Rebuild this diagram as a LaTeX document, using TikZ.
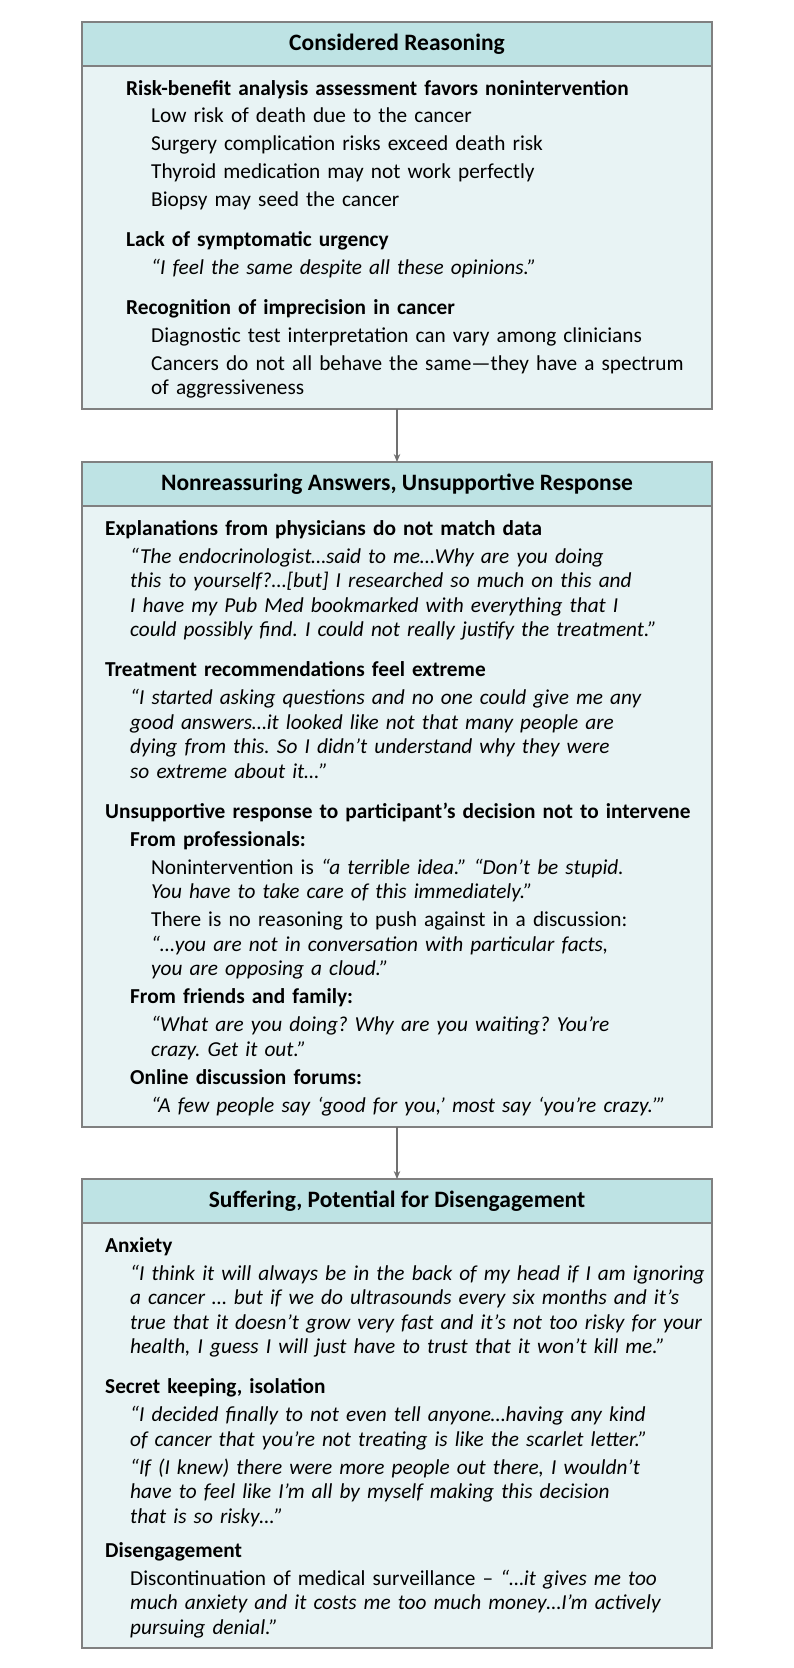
\documentclass[tikz,border=0pt]{standalone}
\usepackage{fontspec}
\usepackage{xcolor}
\usepackage{tikz}
\usetikzlibrary{calc}
\usetikzlibrary{positioning}
\usetikzlibrary{arrows.meta}
\setmainfont{Carlito}
\frenchspacing
\definecolor{hdrfill}{HTML}{BEE3E4}
\definecolor{panelfill}{HTML}{E8F3F4}
\definecolor{frame}{HTML}{808080}
\definecolor{arrowgray}{HTML}{707070}

\begin{document}
\begin{tikzpicture}[x=1pt, y=-1pt, >={Stealth[length=8pt, width=6.5pt]}]
	\tikzstyle{hdr}=[draw=frame, fill=hdrfill, line width=1.2pt, minimum width=630pt, minimum height=44pt, inner sep=0pt, outer sep=0pt, font=\fontsize{23.5}{26}\selectfont\bfseries]
	\tikzstyle{panel}=[draw=frame, fill=panelfill, line width=1.2pt, minimum width=630pt, inner sep=0pt, outer sep=0pt]
	\tikzstyle{body}=[anchor=base west, text width=620pt, align=left, inner sep=0pt, font=\fontsize{21.3}{24.5}\selectfont]
	\tikzstyle{arr}=[->, draw=arrowgray, line width=1.1pt]

	\useasboundingbox (0,0) rectangle (794,1668);

	\node[hdr] (hdr1) at (397,44) {Considered Reasoning};
	\node[panel, below=0pt of hdr1, minimum height=343pt] (body1) {};
	\node[hdr, below=53pt of body1] (hdr2) {Nonreassuring Answers, Unsupportive Response};
	\node[panel, below=0pt of hdr2, minimum height=621pt] (body2) {};
	\node[hdr, below=52pt of body2] (hdr3) {Suffering, Potential for Disengagement};
	\node[panel, below=0pt of hdr3, minimum height=425pt] (body3) {};

	\path (body1) edge[arr] (hdr2);
	\path (body2) edge[arr] (hdr3);

	\node[body] (txt1) at ($(body1.north west) + (44,29)$) {\textbf{Risk-benefit analysis assessment favors nonintervention}\\[3.4pt]
		\hspace*{25pt}Low risk of death due to the cancer\\[3.4pt]
		\hspace*{25pt}Surgery complication risks exceed death risk\\[3.4pt]
		\hspace*{25pt}Thyroid medication may not work perfectly\\[3.4pt]
		\hspace*{25pt}Biopsy may seed the cancer\\[15.5pt]
		\textbf{Lack of symptomatic urgency}\\[3.4pt]
		\hspace*{25pt}\textit{“I feel the same despite all these opinions.”}\\[15.5pt]
		\textbf{Recognition of imprecision in cancer}\\[3.4pt]
		\hspace*{25pt}Diagnostic test interpretation can vary among clinicians\\[3.4pt]
		\hspace*{25pt}Cancers do not all behave the same—they have a spectrum\\
		\hspace*{25pt}of aggressiveness};

	\node[body] (txt2) at ($(body2.north west) + (23,29)$) {\textbf{Explanations from physicians do not match data}\\[3.5pt]
		\hspace*{25pt}\textit{“The endocrinologist…said to me…Why are you doing}\\
		\hspace*{25pt}\textit{this to yourself?…[but] I researched so much on this and}\\
		\hspace*{25pt}\textit{I have my Pub Med bookmarked with everything that I}\\
		\hspace*{25pt}\textit{could possibly find. I could not really justify the treatment.”}\\[15.5pt]
		\textbf{Treatment recommendations feel extreme}\\[3.5pt]
		\hspace*{25pt}\textit{“I started asking questions and no one could give me any}\\
		\hspace*{25pt}\textit{good answers…it looked like not that many people are}\\
		\hspace*{25pt}\textit{dying from this. So I didn’t understand why they were}\\
		\hspace*{25pt}\textit{so extreme about it…”}\\[15.5pt]
		\textbf{Unsupportive response to participant’s decision not to intervene}\\[3.5pt]
		\hspace*{25pt}\textbf{From professionals:}\\[3.5pt]
		\hspace*{46pt}Nonintervention is \textit{“a terrible idea.” “Don’t be stupid.}\\
		\hspace*{46pt}\textit{You have to take care of this immediately.”}\\[3.5pt]
		\hspace*{46pt}There is no reasoning to push against in a discussion:\\
		\hspace*{46pt}\textit{“…you are not in conversation with particular facts,}\\
		\hspace*{46pt}\textit{you are opposing a cloud.”}\\[3.5pt]
		\hspace*{25pt}\textbf{From friends and family:}\\[3.5pt]
		\hspace*{46pt}\textit{“What are you doing? Why are you waiting? You’re}\\
		\hspace*{46pt}\textit{crazy. Get it out.”}\\[3.5pt]
		\hspace*{25pt}\textbf{Online discussion forums:}\\[3.5pt]
		\hspace*{46pt}\textit{“A few people say ‘good for you,’ most say ‘you’re crazy.’”}};

	\node[body] (txt3) at ($(body3.north west) + (23,29)$) {\textbf{Anxiety}\\[3.5pt]
		\hspace*{25pt}\textit{“I think it will always be in the back of my head if I am ignoring}\\
		\hspace*{25pt}\textit{a cancer … but if we do ultrasounds every six months and it’s}\\
		\hspace*{25pt}\textit{true that it doesn’t grow very fast and it’s not too risky for your}\\
		\hspace*{25pt}\textit{health, I guess I will just have to trust that it won’t kill me.”}\\[15.5pt]
		\textbf{Secret keeping, isolation}\\[3.5pt]
		\hspace*{25pt}\textit{“I decided finally to not even tell anyone…having any kind}\\
		\hspace*{25pt}\textit{of cancer that you’re not treating is like the scarlet letter.”}\\[3.5pt]
		\hspace*{25pt}\textit{“If (I knew) there were more people out there, I wouldn’t}\\
		\hspace*{25pt}\textit{have to feel like I’m all by myself making this decision}\\
		\hspace*{25pt}\textit{that is so risky…”}\\[9.5pt]
		\textbf{Disengagement}\\[3.5pt]
		\hspace*{25pt}Discontinuation of medical surveillance – \textit{“…it gives me too}\\
		\hspace*{25pt}\textit{much anxiety and it costs me too much money…I’m actively}\\
		\hspace*{25pt}\textit{pursuing denial.”}};
\end{tikzpicture}
\end{document}
